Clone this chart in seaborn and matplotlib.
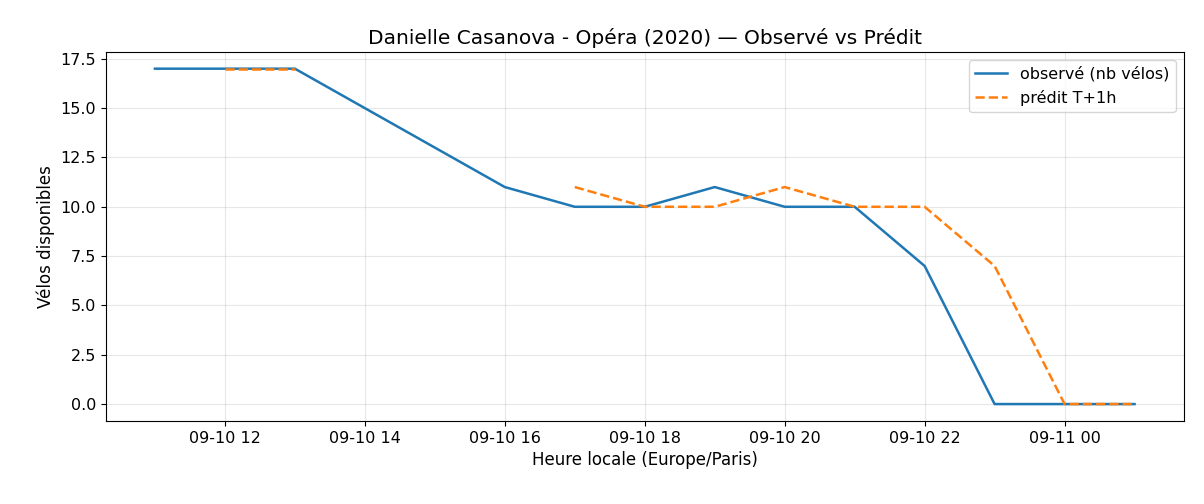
import pandas as pd
import numpy as np
import matplotlib
matplotlib.use("Agg")
import matplotlib.pyplot as plt
import matplotlib.dates as mdates
import seaborn as sns

times = pd.date_range("2020-09-10 11:00", "2020-09-11 01:00", freq="h")
observed = [17, 17, 17, 15, 13, 11, 10, 10, 11, 10, 10, 7, 0, 0, 0]
predicted = [np.nan, 17, 17, np.nan, np.nan, np.nan, 11, 10, 10, 11, 10, 10, 7, 0, 0]

df = pd.DataFrame({"t": times, "obs": observed, "pred": predicted})

fig, ax = plt.subplots(figsize=(12.04, 5.04), dpi=100)
sns.lineplot(data=df, x="t", y="obs", ax=ax, color="#1f77b4", lw=1.8, label="observé (nb vélos)")
# the prediction has a gap, draw each run separately
seg = df["pred"].isna().cumsum()
first = True
for _, part in df[df["pred"].notna()].groupby(seg[df["pred"].notna()]):
    sns.lineplot(data=part, x="t", y="pred", ax=ax, color="#ff7f0e", lw=1.8, linestyle="--",
                 label="prédit T+1h" if first else None)
    first = False

ax.set_title("Danielle Casanova - Opéra (2020) — Observé vs Prédit", fontsize=14.5)
ax.set_xlabel("Heure locale (Europe/Paris)", fontsize=12)
ax.set_ylabel("Vélos disponibles", fontsize=12)
ax.xaxis.set_major_locator(mdates.HourLocator(interval=2))
ax.xaxis.set_major_formatter(mdates.DateFormatter("%m-%d %H"))
ax.tick_params(labelsize=11.5)
ax.grid(True, alpha=0.3)
ax.legend(loc="upper right", fontsize=11.5)
fig.subplots_adjust(left=0.088, right=0.983, top=0.897, bottom=0.165)
fig.savefig("out.png")
